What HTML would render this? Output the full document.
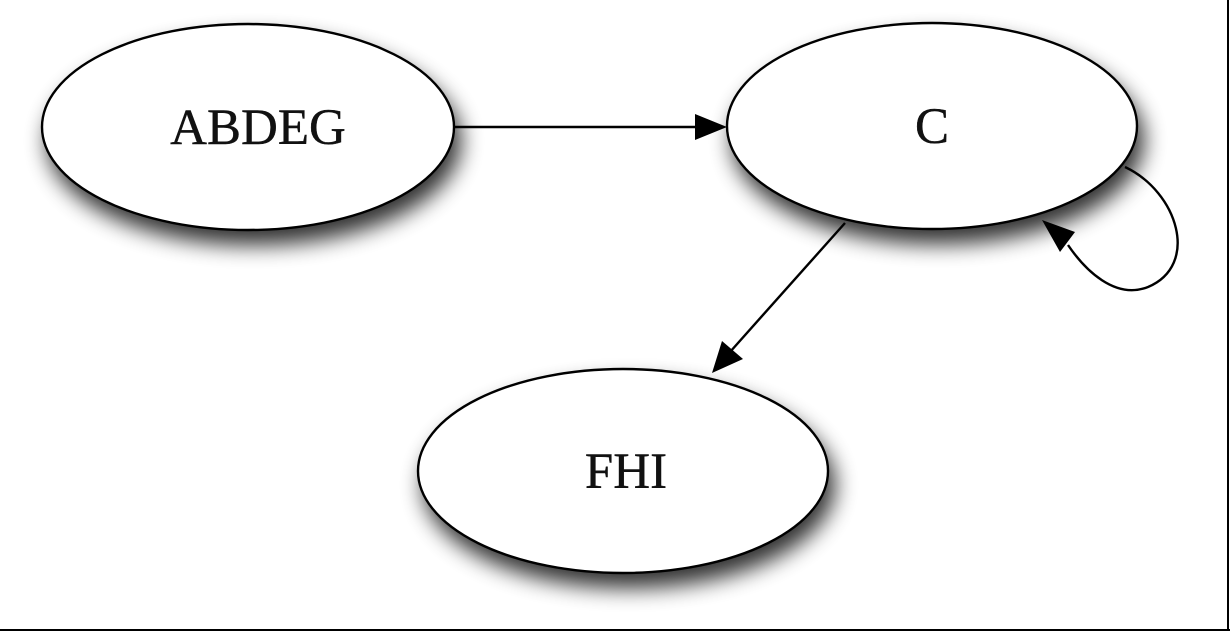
<!DOCTYPE html>
<html><head><style>
html,body{margin:0;padding:0;background:#fff;}
svg{display:block;}
</style></head><body>
<svg width="1230" height="631" viewBox="0 0 1230 631" xmlns="http://www.w3.org/2000/svg">
<defs>
<filter id="sh" x="-20%" y="-20%" width="150%" height="160%">
<feGaussianBlur in="SourceAlpha" stdDeviation="11"/>
<feOffset dx="6" dy="14" result="b"/>
<feComponentTransfer><feFuncA type="linear" slope="0.8"/></feComponentTransfer>
<feMerge><feMergeNode/><feMergeNode in="SourceGraphic"/></feMerge>
</filter>
</defs>
<rect width="1230" height="631" fill="#fff"/>
<g filter="url(#sh)" fill="#fff" stroke="#000" stroke-width="2.4">
<ellipse cx="248" cy="127" rx="206" ry="103"/>
<ellipse cx="932" cy="126" rx="205" ry="103"/>
<ellipse cx="623" cy="471" rx="205" ry="102"/>
</g>
<g font-family="Liberation Serif, serif" font-size="51" text-anchor="middle" fill="#111" stroke="#111" stroke-width="0.4">
<text x="258" y="144">ABDEG</text>
<text x="932" y="143">C</text>
<text x="626" y="488">FHI</text>
</g>
<g stroke="#000" stroke-width="2.4" fill="none">
<line x1="455" y1="127" x2="698" y2="127"/>
<line x1="845" y1="223" x2="730" y2="352"/>
<path d="M1125,167 C1178,192 1200,265 1148,287 C1115,300 1085,270 1068,245"/>
</g>
<g fill="#000">
<polygon points="727,127 695,114 695,140"/>
<polygon points="712,373 722,341 743,359"/>
<polygon points="1042,220 1075,232 1060,252"/>
</g>
<line x1="1228" y1="0" x2="1228" y2="631" stroke="#000" stroke-width="2"/>
<line x1="0" y1="630" x2="1230" y2="630" stroke="#000" stroke-width="2"/>
</svg>
</body></html>
